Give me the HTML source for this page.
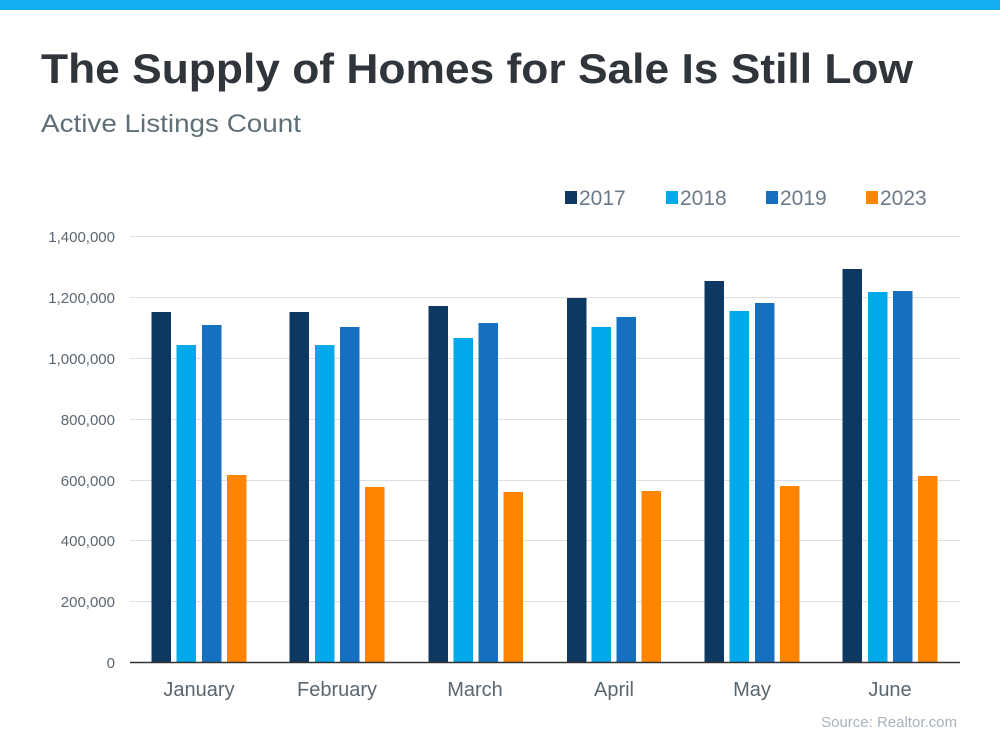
<!DOCTYPE html>
<html><head><meta charset="utf-8"><style>
html,body{margin:0;padding:0;background:#fff;}
svg{display:block;font-family:"Liberation Sans",Arial,sans-serif;}
</style></head><body>
<svg width="1000" height="750" viewBox="0 0 1000 750" xmlns="http://www.w3.org/2000/svg">
<rect x="0" y="0" width="1000" height="10" fill="#14adef"/>
<text x="41" y="83" font-size="42" font-weight="bold" fill="#30353b" textLength="872" lengthAdjust="spacingAndGlyphs">The Supply of Homes for Sale Is Still Low</text>
<text x="41" y="132" font-size="25" fill="#5f6f78" textLength="260" lengthAdjust="spacingAndGlyphs">Active Listings Count</text>
<g font-size="21" fill="#6b7a8a">
<rect x="565" y="191" width="12" height="13" fill="#0d3862"/><text x="579" y="205">2017</text>
<rect x="666" y="191" width="12" height="13" fill="#00aaea"/><text x="680" y="205">2018</text>
<rect x="766" y="191" width="12" height="13" fill="#1570c1"/><text x="780" y="205">2019</text>
<rect x="866" y="191" width="12" height="13" fill="#ff8500"/><text x="880" y="205">2023</text>
</g>
<g stroke="#dfdfe3" stroke-width="1">
<line x1="130" x2="960" y1="236.5" y2="236.5"/>
<line x1="130" x2="960" y1="297.5" y2="297.5"/>
<line x1="130" x2="960" y1="358.5" y2="358.5"/>
<line x1="130" x2="960" y1="419.5" y2="419.5"/>
<line x1="130" x2="960" y1="480.5" y2="480.5"/>
<line x1="130" x2="960" y1="540.5" y2="540.5"/>
<line x1="130" x2="960" y1="601.5" y2="601.5"/>
</g>
<g font-size="15" fill="#5a6670" text-anchor="end">
<text x="115" y="242">1,400,000</text>
<text x="115" y="303">1,200,000</text>
<text x="115" y="364">1,000,000</text>
<text x="115" y="425">800,000</text>
<text x="115" y="486">600,000</text>
<text x="115" y="546">400,000</text>
<text x="115" y="607">200,000</text>
<text x="115" y="668">0</text>
</g>
<g>
<rect x="151.5" y="312" width="19.5" height="350" fill="#0d3862"/>
<rect x="176.5" y="345" width="19.5" height="317" fill="#00aaea"/>
<rect x="202" y="325" width="19.5" height="337" fill="#1570c1"/>
<rect x="227" y="475" width="19.5" height="187" fill="#ff8500"/>

<rect x="289.5" y="312" width="19.5" height="350" fill="#0d3862"/>
<rect x="315" y="345" width="19.5" height="317" fill="#00aaea"/>
<rect x="340" y="327" width="19.5" height="335" fill="#1570c1"/>
<rect x="365" y="487" width="19.5" height="175" fill="#ff8500"/>

<rect x="428.5" y="306" width="19.5" height="356" fill="#0d3862"/>
<rect x="453.5" y="338" width="19.5" height="324" fill="#00aaea"/>
<rect x="478.5" y="323" width="19.5" height="339" fill="#1570c1"/>
<rect x="503.5" y="492" width="19.5" height="170" fill="#ff8500"/>

<rect x="567" y="298" width="19.5" height="364" fill="#0d3862"/>
<rect x="591.5" y="327" width="19.5" height="335" fill="#00aaea"/>
<rect x="616.5" y="317" width="19.5" height="345" fill="#1570c1"/>
<rect x="641.5" y="491" width="19.5" height="171" fill="#ff8500"/>

<rect x="704.5" y="281" width="19.5" height="381" fill="#0d3862"/>
<rect x="729.5" y="311" width="19.5" height="351" fill="#00aaea"/>
<rect x="755" y="303" width="19.5" height="359" fill="#1570c1"/>
<rect x="780" y="486" width="19.5" height="176" fill="#ff8500"/>

<rect x="842.5" y="269" width="19.5" height="393" fill="#0d3862"/>
<rect x="868" y="292" width="19.5" height="370" fill="#00aaea"/>
<rect x="893" y="291" width="19.5" height="371" fill="#1570c1"/>
<rect x="918" y="476" width="19.5" height="186" fill="#ff8500"/>
</g>
<line x1="130" x2="960" y1="662.5" y2="662.5" stroke="#333" stroke-width="1.5"/>
<g font-size="20" fill="#5a6670" text-anchor="middle">
<text x="199" y="696">January</text>
<text x="337" y="696">February</text>
<text x="475" y="696">March</text>
<text x="614" y="696">April</text>
<text x="752" y="696">May</text>
<text x="890" y="696">June</text>
</g>
<text x="957" y="727" font-size="15" fill="#a8b2ba" text-anchor="end">Source: Realtor.com</text>
</svg>
</body></html>
